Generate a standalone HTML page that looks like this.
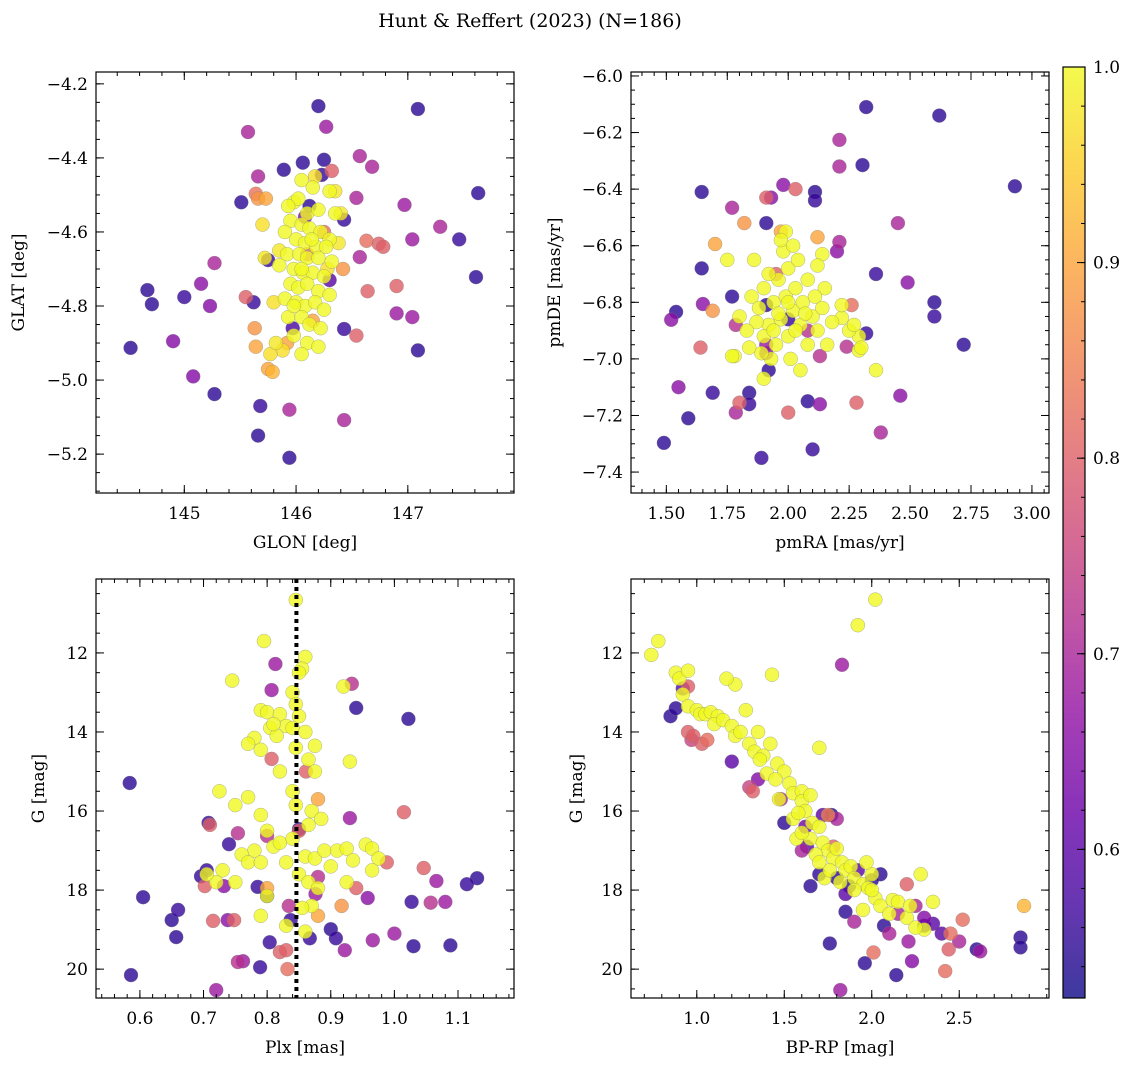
<!DOCTYPE html>
<html><head><meta charset="utf-8"><style>
html,body{margin:0;padding:0;background:#fff;}
svg{display:block;font-family:"DejaVu Serif","Liberation Serif",serif;}
</style></head><body>
<svg id="fig" width="1136" height="1067" viewBox="0 0 1136 1067" xmlns="http://www.w3.org/2000/svg">
<defs><linearGradient id="plasma" x1="0" y1="1" x2="0" y2="0">
<stop offset="0" stop-color="#0d0887"/><stop offset="0.1" stop-color="#41049d"/><stop offset="0.2" stop-color="#6a00a8"/><stop offset="0.3" stop-color="#8f0da4"/><stop offset="0.4" stop-color="#b12a90"/><stop offset="0.5" stop-color="#cc4778"/><stop offset="0.6" stop-color="#e16462"/><stop offset="0.7" stop-color="#f2844b"/><stop offset="0.8" stop-color="#fca636"/><stop offset="0.9" stop-color="#fcce25"/><stop offset="1" stop-color="#f0f921"/>
</linearGradient></defs>
<text x="530" y="27" text-anchor="middle" font-size="19">Hunt &amp; Reffert (2023) (N=186)</text>
</svg>
<script>
// ---- Panel 1: GLON / GLAT ----
const p1x=[144.52,144.67,144.71,145.0,144.9,145.08,145.15,145.23,145.27,145.27,145.51,145.55,145.57,145.62,145.66,145.64,145.66,145.73,145.66,145.68,145.63,145.64,145.75,145.75,145.79,145.89,145.94,145.94,146.2,146.27,146.25,146.06,146.23,146.32,146.57,146.68,146.54,146.43,146.74,146.78,146.63,146.57,146.64,146.54,146.43,146.43,146.97,146.9,146.9,147.04,147.04,147.09,147.09,147.29,147.46,147.61,147.63,
146.05,146.15,146.3,145.98,146.02,145.93,146.1,146.2,146.35,145.95,146.05,146.12,146.22,146.3,145.9,146.0,146.08,146.18,146.27,145.92,146.03,146.1,146.2,146.32,145.85,145.98,146.06,146.15,146.25,145.95,146.02,146.1,146.2,146.3,145.9,146.0,146.08,146.17,146.25,145.93,146.05,146.12,146.22,145.98,146.1,146.2,146.05,145.82,145.72,145.85,146.38,146.4,146.35,145.98,146.14,146.05,145.7,145.8,146.17,146.28,145.88,145.77,
146.12,145.97,146.3,146.08,146.1,146.42,145.92,146.25,146.15];
const p1y=[-4.913,-4.757,-4.795,-4.776,-4.895,-4.99,-4.74,-4.80,-4.684,-5.038,-4.52,-4.776,-4.33,-4.79,-4.45,-4.497,-4.51,-4.51,-5.15,-5.07,-4.86,-4.91,-4.97,-4.676,-4.978,-4.432,-5.08,-5.21,-4.26,-4.316,-4.405,-4.413,-4.446,-4.435,-4.395,-4.424,-4.508,-4.567,-4.632,-4.64,-4.624,-4.668,-4.76,-4.88,-4.862,-5.108,-4.527,-4.746,-4.82,-4.83,-4.62,-4.92,-4.268,-4.586,-4.62,-4.722,-4.495,
-4.46,-4.48,-4.49,-4.52,-4.51,-4.53,-4.55,-4.54,-4.55,-4.57,-4.58,-4.59,-4.6,-4.62,-4.6,-4.62,-4.63,-4.64,-4.64,-4.66,-4.66,-4.67,-4.67,-4.68,-4.69,-4.7,-4.71,-4.71,-4.72,-4.74,-4.75,-4.74,-4.76,-4.77,-4.78,-4.79,-4.8,-4.79,-4.81,-4.83,-4.83,-4.85,-4.86,-4.88,-4.9,-4.91,-4.93,-4.9,-4.67,-4.65,-4.63,-4.55,-4.49,-4.8,-4.62,-4.7,-4.58,-4.79,-4.45,-4.7,-4.92,-4.93,
-4.53,-4.86,-4.73,-4.56,-4.66,-4.7,-4.9,-4.6,-4.84];
const p1p=[0.55,0.55,0.55,0.56,0.65,0.65,0.66,0.65,0.7,0.55,0.55,0.8,0.7,0.56,0.7,0.83,0.88,0.9,0.55,0.56,0.88,0.9,0.9,0.56,0.92,0.55,0.7,0.55,0.55,0.68,0.55,0.55,0.56,0.8,0.7,0.7,0.7,0.56,0.8,0.8,0.82,0.7,0.8,0.8,0.56,0.7,0.68,0.8,0.68,0.68,0.68,0.55,0.55,0.7,0.56,0.55,0.55,
1,1,1,1,1,1,1,1,1,1,1,1,1,1,1,1,1,1,1,1,1,1,1,1,1,1,1,1,1,1,1,1,1,1,1,1,1,1,1,1,1,1,1,1,1,1,1,0.98,0.98,0.98,0.98,0.98,0.98,1,1,1,0.97,0.97,0.97,0.97,0.97,0.97,
0.55,0.58,0.6,0.65,0.8,0.88,0.9,0.82,0.9];
const p1xticks=[145,146,147];
const p1yticks=[-5.2,-5.0,-4.8,-4.6,-4.4,-4.2];

// ---- Panel 2: pmRA / pmDE ----
const p2x=[1.49,1.52,1.54,1.55,1.59,1.645,1.645,1.65,1.64,1.69,1.69,1.70,1.77,1.77,1.785,1.78,1.80,1.785,1.82,1.84,1.84,1.89,1.91,1.93,1.91,1.91,1.91,1.92,1.90,1.98,2.03,2.0,2.08,2.11,2.11,2.10,2.13,2.13,2.12,2.14,2.2,2.21,2.21,2.21,2.24,2.26,2.28,2.305,2.32,2.32,2.36,2.36,2.38,2.45,2.46,2.49,2.62,2.60,2.60,2.72,2.93,2.29,2.29,2.25,2.22,2.22,
1.85,1.88,1.9,1.92,1.94,1.96,1.97,1.99,2.0,2.02,2.03,2.05,2.06,2.08,2.1,2.12,2.14,2.0,1.98,2.04,1.95,1.9,1.87,2.08,2.15,2.01,1.93,1.83,1.8,1.86,1.99,1.97,2.05,2.18,2.16,1.92,2.02,1.96,2.03,2.07,1.89,2.11,1.84,2.12,1.77,1.75,2.27,2.3,2.0,1.94,
1.97,1.95,2.0,1.91,2.08];
const p2y=[-7.297,-6.862,-6.834,-7.1,-7.21,-6.41,-6.68,-6.806,-6.96,-7.12,-6.83,-6.594,-6.466,-6.78,-6.88,-6.99,-7.155,-7.19,-6.52,-7.12,-7.16,-7.35,-6.43,-6.43,-6.52,-6.81,-6.98,-7.04,-7.07,-6.385,-6.40,-7.19,-7.15,-6.41,-6.44,-7.32,-7.16,-6.99,-6.57,-6.63,-6.62,-6.226,-6.32,-6.587,-6.957,-6.81,-7.155,-6.315,-6.91,-6.11,-6.70,-7.04,-7.26,-6.52,-7.13,-6.73,-6.14,-6.8,-6.85,-6.95,-6.39,-6.92,-6.97,-6.9,-6.855,-6.81,
-6.78,-6.82,-6.75,-6.88,-6.8,-6.72,-6.86,-6.78,-6.92,-6.83,-6.75,-6.88,-6.8,-6.95,-6.85,-6.9,-6.82,-6.68,-6.62,-6.65,-6.95,-6.92,-6.87,-6.72,-6.75,-7.0,-7.0,-6.9,-6.85,-6.65,-6.55,-6.58,-7.04,-6.87,-6.95,-6.7,-6.6,-6.84,-6.9,-6.84,-6.98,-6.78,-6.96,-6.67,-6.99,-6.65,-6.88,-6.96,-6.8,-6.9,
-6.55,-6.7,-6.86,-6.95,-6.9];
const p2p=[0.55,0.66,0.55,0.66,0.55,0.55,0.55,0.66,0.8,0.56,0.88,0.9,0.7,0.55,0.72,1,0.8,0.7,0.88,0.55,0.56,0.56,0.8,0.66,0.55,0.55,0.66,0.55,1,0.66,0.8,0.8,0.55,0.55,0.56,0.56,0.66,0.72,0.9,1,0.66,0.7,0.7,0.7,0.72,0.82,0.8,0.55,0.56,0.55,0.56,1,0.7,0.7,0.66,0.66,0.55,0.55,0.56,0.55,0.55,1,1,1,1,1,
1,1,1,1,1,1,1,1,1,1,1,1,1,1,1,1,1,1,1,1,1,1,1,1,1,1,1,1,1,1,1,1,1,1,1,1,1,1,1,1,1,1,1,1,1,1,1,1,1,1,
0.9,0.8,0.56,0.68,0.72];
const p2xticks=[1.50,1.75,2.00,2.25,2.50,2.75,3.00];
const p2yticks=[-7.4,-7.2,-7.0,-6.8,-6.6,-6.4,-6.2,-6.0];

// ---- Panel 3: Plx / G ----
const p3x=[0.584,0.586,0.605,0.65,0.66,0.657,0.696,0.702,0.705,0.708,0.71,0.715,0.72,0.732,0.74,0.738,0.748,0.754,0.762,0.754,0.789,0.785,0.8,0.804,0.8,0.807,0.807,0.813,0.8,0.82,0.83,0.832,0.834,0.837,0.85,0.861,0.867,0.876,0.88,0.9,0.908,0.922,0.93,0.933,0.94,0.94,0.958,0.966,0.988,1.0,1.015,1.022,1.027,1.03,1.046,1.057,1.066,1.08,1.088,1.114,1.13,0.917,0.85,
0.845,0.86,0.855,0.85,0.795,0.745,0.84,0.845,0.85,0.79,0.8,0.82,0.83,0.84,0.805,0.78,0.79,0.815,0.845,0.875,0.865,0.82,0.84,0.875,0.88,0.93,0.92,0.725,0.77,0.75,0.79,0.8,0.81,0.78,0.76,0.73,0.72,0.705,0.75,0.77,0.83,0.86,0.875,0.89,0.9,0.85,0.865,0.88,0.87,0.88,0.855,0.8,0.79,0.83,0.82,0.865,0.87,0.885,0.91,0.925,0.935,0.955,0.965,0.975,0.965,0.925,0.86,0.79,0.845,0.84,0.86,0.77,0.81];
const p3y=[15.29,20.15,18.18,18.76,18.5,19.19,17.65,17.9,17.5,16.3,16.35,18.78,20.53,17.9,16.84,18.76,18.76,19.82,19.8,16.56,19.95,17.92,18.15,19.32,16.63,14.68,12.94,12.28,17.95,19.57,19.52,20.0,18.4,18.76,16.46,15.0,19.22,18.1,17.67,18.99,19.22,19.52,16.18,12.78,13.39,17.95,18.2,19.27,17.3,19.1,16.03,13.67,18.3,19.42,17.44,18.32,17.77,18.3,19.4,17.85,17.7,18.4,16.5,
10.66,12.1,12.4,12.5,11.7,12.7,13.0,13.3,13.6,13.45,13.5,13.55,13.85,13.9,13.9,14.15,14.45,14.1,14.4,14.35,14.7,15.0,15.5,15.0,15.7,14.75,12.85,15.5,15.65,15.85,16.1,16.5,16.9,17.0,17.1,17.5,17.8,17.6,17.8,17.3,17.3,17.15,17.2,17.0,17.4,17.6,17.8,17.95,18.4,18.65,18.45,18.15,18.65,18.9,16.8,16.35,16.0,16.2,17.0,16.95,17.25,16.85,16.95,17.2,17.5,17.8,19.05,17.3,15.85,16.7,14.0,14.3,13.8];
const p3p=[0.55,0.55,0.55,0.55,0.56,0.55,0.56,0.8,0.56,0.56,0.8,0.8,0.68,0.66,0.56,0.66,0.8,0.72,0.68,0.72,0.56,0.56,0.55,0.56,0.72,0.8,0.68,0.68,0.9,0.8,0.8,0.82,0.72,0.56,0.56,0.8,0.56,0.68,0.72,0.55,0.56,0.68,0.68,0.72,0.55,0.8,0.66,0.68,0.8,0.68,0.8,0.55,0.56,0.55,0.8,0.72,0.68,0.68,0.55,0.56,0.55,0.88,0.8,
1,1,1,1,1,1,1,1,1,1,1,1,1,1,1,1,1,1,1,1,1,1,1,1,0.9,1,1,1,1,1,1,1,1,1,1,1,1,1,1,1,1,1,1,1,1,1,1,1,1,0.9,1,1,1,1,1,1,1,1,1,1,1,1,1,1,1,1,1,1,1,1,1,1,1];
const p3xticks=[0.6,0.7,0.8,0.9,1.0,1.1];
const p3yticks=[12,14,16,18,20];
const plxMedian=0.846;

// ---- Panel 4: BP-RP / G ----
const p4x=[0.74,0.78,0.88,0.9,0.95,0.92,0.95,1.0,1.02,1.05,1.08,1.12,1.1,1.15,1.2,1.22,1.25,1.3,1.28,1.22,1.17,1.43,1.33,1.38,1.42,1.46,1.5,1.53,1.55,1.6,1.6,1.65,1.62,1.66,1.7,1.7,1.65,1.72,1.75,1.78,1.8,1.83,1.85,1.88,1.9,1.95,1.98,2.02,2.05,2.1,2.12,2.2,2.28,2.35,2.3,1.92,2.02,1.73,1.9,1.95,2.0,2.15,2.22,2.0,1.55,1.47,1.58,1.68,1.76,1.82,1.57,1.6,1.7,2.25,1.35,1.36,1.4,1.45,1.97,
0.85,0.88,0.92,0.95,0.97,0.98,1.03,1.06,0.95,1.3,1.32,1.35,1.2,1.48,1.5,1.62,1.6,1.65,1.7,1.75,1.72,1.77,1.8,1.83,1.78,1.76,1.82,1.85,1.9,1.96,2.01,2.05,2.07,2.1,2.14,2.2,2.21,2.23,2.25,2.3,2.35,2.42,2.44,2.45,2.5,2.52,2.6,2.62,2.85,2.85,2.87,1.87,1.92,2.0,2.15,1.8,1.85,1.63,2.3,2.4];
const p4y=[12.05,11.7,12.5,12.65,12.45,13.05,13.35,13.45,13.55,13.55,13.5,13.6,13.8,13.7,13.85,14.1,14.0,14.3,13.45,12.8,12.65,12.55,14.5,14.6,14.3,14.8,15.0,15.3,15.55,15.5,15.75,15.6,16.0,16.3,16.4,14.4,16.7,16.8,17.0,17.2,16.95,17.3,17.5,17.4,17.7,17.85,17.95,18.2,18.4,18.6,18.25,18.7,17.6,18.3,19.0,11.3,10.65,17.7,18.0,18.5,18.0,18.3,18.4,17.6,16.2,15.7,16.05,17.1,17.5,17.8,16.7,16.55,17.3,18.95,14.0,14.7,15.05,15.2,17.3,
13.6,13.4,12.9,14.0,14.2,14.1,14.3,14.2,12.85,15.4,15.5,15.2,14.75,15.7,16.3,16.4,17.0,17.9,17.6,16.1,16.1,16.1,16.2,12.3,16.9,19.35,20.53,18.55,18.8,19.85,19.58,17.6,18.9,19.1,20.15,17.85,19.3,19.8,18.4,18.7,18.85,20.05,19.5,19.1,19.3,18.75,19.5,19.55,19.2,19.45,18.4,17.9,17.5,17.75,18.6,17.7,18.1,16.9,18.9,19.1];
const p4p=[1,1,1,1,1,1,1,1,1,1,1,1,1,1,1,1,1,1,1,1,1,1,1,1,1,1,1,1,1,1,1,1,1,1,1,1,1,1,1,1,1,1,1,1,1,1,1,1,1,1,1,1,1,1,1,1,1,1,1,1,1,1,1,1,1,1,1,1,1,1,1,1,1,1,1,1,1,1,1,
0.55,0.55,0.6,0.8,0.75,0.8,0.8,0.82,0.8,0.75,0.8,0.65,0.6,0.7,0.55,0.62,0.7,0.55,0.55,0.85,0.6,0.55,0.7,0.68,0.8,0.55,0.68,0.55,0.7,0.55,0.82,0.55,0.55,0.7,0.55,0.8,0.68,0.65,0.7,0.65,0.6,0.82,0.8,0.82,0.7,0.82,0.55,0.68,0.55,0.55,0.92,0.55,0.6,0.55,0.7,0.55,0.6,0.6,0.55,0.6];
const p4xticks=[1.0,1.5,2.0,2.5];
const p4yticks=[12,14,16,18,20];

// ---- Colorbar ----
const cbTicks=[0.6,0.7,0.8,0.9,1.0];
const vmin=0.524, vmax=1.0;

const NS='http://www.w3.org/2000/svg';
const svg=document.getElementById('fig');
const stops=[[13,8,135],[65,4,157],[106,0,168],[143,13,164],[177,42,144],[204,71,120],[225,100,98],[242,132,75],[252,166,54],[252,206,37],[240,249,33]];
function plasma(v){
  let t=(v-vmin)/(vmax-vmin); t=Math.max(0,Math.min(1,t));
  const f=t*10, i=Math.min(9,Math.floor(f)), u=f-i;
  const a=stops[i], b=stops[i+1];
  return 'rgb('+a.map((c,k)=>Math.round(c+(b[k]-c)*u)).join(',')+')';
}
function mk(tag,attrs,parent){
  const e=document.createElementNS(NS,tag);
  for(const k in attrs) e.setAttribute(k,attrs[k]);
  (parent||svg).appendChild(e); return e;
}
function fmtMinus(s){return s.replace('-','\u2212');}

function panel(cfg){
  const g=mk('g',{});
  
  
  const sx=v=>cfg.x0+(v-cfg.xlim[0])/(cfg.xlim[1]-cfg.xlim[0])*(cfg.x1-cfg.x0);
  const sy=cfg.invert ? (v=>cfg.y0+(v-cfg.ylim[0])/(cfg.ylim[1]-cfg.ylim[0])*(cfg.y1-cfg.y0))
                      : (v=>cfg.y1-(v-cfg.ylim[0])/(cfg.ylim[1]-cfg.ylim[0])*(cfg.y1-cfg.y0));
  const clipId='clip'+cfg.name;
  const cp=mk('clipPath',{id:clipId},g);
  mk('rect',{x:cfg.x0,y:cfg.y0,width:cfg.x1-cfg.x0,height:cfg.y1-cfg.y0},cp);
  const pts=mk('g',{'clip-path':'url(#'+clipId+')'},g);
  
  
  const idx=cfg.xs.map((_,i)=>i).sort((a,b)=>cfg.ps[a]-cfg.ps[b]);
  idx.forEach(i=>{
    const c=mk('circle',{cx:sx(cfg.xs[i]).toFixed(1),cy:sy(cfg.ys[i]).toFixed(1),r:7,fill:plasma(cfg.ps[i]),'fill-opacity':0.8,stroke:'#808080','stroke-width':0.5,'stroke-opacity':0.6},pts);
    
    
  });
  if(cfg.vline!==undefined){
    const l=mk('line',{x1:sx(cfg.vline),x2:sx(cfg.vline),y1:cfg.y0,y2:cfg.y1,stroke:'#000','stroke-width':4,'stroke-dasharray':'4 4'},g);
    
    
  }
  const fr=mk('rect',{x:cfg.x0,y:cfg.y0,width:cfg.x1-cfg.x0,height:cfg.y1-cfg.y0,fill:'none',stroke:'#000','stroke-width':1.2},g);
  
  
  const tk=mk('g',{stroke:'#000','stroke-width':1},g);
  const eps=1e-9;
  for(let v=Math.ceil(cfg.xlim[0]/cfg.xmin-eps)*cfg.xmin; v<=cfg.xlim[1]+eps; v+=cfg.xmin){
    const X=sx(v); mk('line',{x1:X,x2:X,y1:cfg.y1,y2:cfg.y1-4},tk); mk('line',{x1:X,x2:X,y1:cfg.y0,y2:cfg.y0+4},tk);
  }
  const lo=Math.min(cfg.ylim[0],cfg.ylim[1]), hi=Math.max(cfg.ylim[0],cfg.ylim[1]);
  for(let v=Math.ceil(lo/cfg.ymin-eps)*cfg.ymin; v<=hi+eps; v+=cfg.ymin){
    const Y=sy(v); mk('line',{x1:cfg.x0,x2:cfg.x0+4,y1:Y,y2:Y},tk); mk('line',{x1:cfg.x1,x2:cfg.x1-4,y1:Y,y2:Y},tk);
  }
  cfg.xticks.forEach(v=>{
    const X=sx(v); mk('line',{x1:X,x2:X,y1:cfg.y1,y2:cfg.y1-8},tk); mk('line',{x1:X,x2:X,y1:cfg.y0,y2:cfg.y0+8},tk);
    const t=mk('text',{x:X,y:cfg.y1+26,'text-anchor':'middle','font-size':17},g);
    t.textContent=fmtMinus(v.toFixed(cfg.xdec));
    
    
  });
  cfg.yticks.forEach(v=>{
    const Y=sy(v); mk('line',{x1:cfg.x0,x2:cfg.x0+8,y1:Y,y2:Y},tk); mk('line',{x1:cfg.x1,x2:cfg.x1-8,y1:Y,y2:Y},tk);
    const t=mk('text',{x:cfg.x0-8,y:Y+6,'text-anchor':'end','font-size':17},g);
    t.textContent=fmtMinus(v.toFixed(cfg.ydec));
    
    
  });
  const xl=mk('text',{x:(cfg.x0+cfg.x1)/2,y:cfg.y1+55,'text-anchor':'middle','font-size':17},g);
  xl.textContent=cfg.xlabel;
  
  
  const yx=cfg.ylx, yy=(cfg.y0+cfg.y1)/2;
  const yl=mk('text',{x:yx,y:yy,'text-anchor':'middle','font-size':17,transform:'rotate(-90 '+yx+' '+yy+')'},g);
  yl.textContent=cfg.ylabel;
  
  
}

panel({name:'sky-position-panel',xs:p1x,ys:p1y,ps:p1p,x0:96,x1:514,y0:72,y1:493,xlim:[144.21,147.95],ylim:[-5.305,-4.168],xticks:p1xticks,yticks:p1yticks,xmin:0.2,ymin:0.05,xdec:0,ydec:1,xlabel:'GLON [deg]',ylabel:'GLAT [deg]',ylx:24});
panel({name:'proper-motion-panel',xs:p2x,ys:p2y,ps:p2p,x0:631,x1:1049,y0:72,y1:493,xlim:[1.355,3.07],ylim:[-7.474,-5.986],xticks:p2xticks,yticks:p2yticks,xmin:0.05,ymin:0.05,xdec:2,ydec:1,xlabel:'pmRA [mas/yr]',ylabel:'pmDE [mas/yr]',ylx:560});
panel({name:'parallax-magnitude-panel',xs:p3x,ys:p3y,ps:p3p,x0:96,x1:514,y0:579,y1:998,xlim:[0.531,1.188],ylim:[10.13,20.73],invert:true,xticks:p3xticks,yticks:p3yticks,xmin:0.02,ymin:0.5,xdec:1,ydec:0,xlabel:'Plx [mas]',ylabel:'G [mag]',ylx:44,vline:plxMedian});
panel({name:'color-magnitude-panel',xs:p4x,ys:p4y,ps:p4p,x0:631,x1:1049,y0:579,y1:998,xlim:[0.624,3.013],ylim:[10.13,20.73],invert:true,xticks:p4xticks,yticks:p4yticks,xmin:0.1,ymin:0.5,xdec:1,ydec:0,xlabel:'BP-RP [mag]',ylabel:'G [mag]',ylx:582});

(function(){
  const cx0=1063,cx1=1085,cy0=67,cy1=998;
  const g=mk('g',{});
  
  
  mk('rect',{x:cx0,y:cy0,width:cx1-cx0,height:cy1-cy0,fill:'url(#plasma)','fill-opacity':0.8},g);
  mk('rect',{x:cx0,y:cy0,width:cx1-cx0,height:cy1-cy0,fill:'none',stroke:'#000','stroke-width':1.2},g);
  const sy=v=>cy1-(v-vmin)/(vmax-vmin)*(cy1-cy0);
  for(let v=0.54; v<=1.0001; v+=0.02){
    const Y=sy(v); mk('line',{x1:cx1,x2:cx1-4,y1:Y,y2:Y,stroke:'#000','stroke-width':1},g);
  }
  cbTicks.forEach(v=>{
    const Y=sy(v);
    mk('line',{x1:cx1,x2:cx1-8,y1:Y,y2:Y,stroke:'#000','stroke-width':1},g);
    const t=mk('text',{x:cx1+8,y:Y+6,'font-size':17},g);
    t.textContent=v.toFixed(1);
    
    
  });
})();
</script>
</body></html>
